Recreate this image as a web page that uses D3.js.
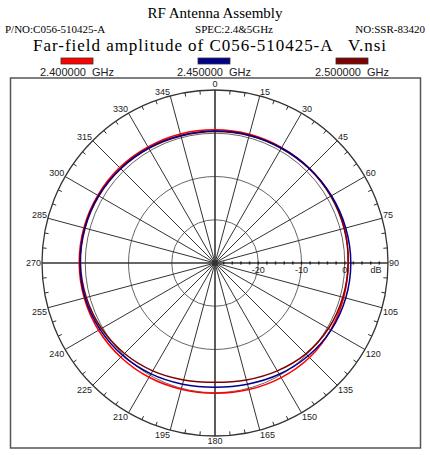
<!DOCTYPE html>
<html>
<head>
<meta charset="utf-8">
<script src="https://cdn.jsdelivr.net/npm/d3@7"></script>
<style>
  body { margin: 0; background: #fff; }
  svg { display: block; }
</style>
</head>
<body>
<div id="chart"></div>
<script>
// angles (deg) where the traces were read, every 15 deg
var angles = [0, 15, 30, 45, 60, 75, 90, 105, 120, 135, 150, 165,
              180, 195, 210, 225, 240, 255, 270, 285, 300, 315, 330, 345];

// amplitude in dB
var amp2400 = [0.8, 0.8, 0.8, 0.9, 1.0, 1.0, 0.8, 0.8, 0.9, 0.9, 0.6, 0.3,
               0.1, 0.2, 0.5, 0.8, 1.1, 1.3, 1.4, 1.4, 1.3, 1.2, 1.0, 0.9];
var amp2450 = [0.5, 0.6, 0.7, 0.9, 1.1, 1.3, 1.4, 1.3, 1.0, 0.4, -0.3, -1.0,
               -1.3, -1.0, -0.4, 0.2, 0.7, 1.1, 1.2, 1.2, 1.1, 0.9, 0.7, 0.5];
var amp2500 = [0.4, 0.5, 0.6, 0.8, 0.9, 0.9, 0.8, 0.6, 0.3, -0.3, -1.2, -2.0,
               -2.4, -2.0, -1.2, -0.4, 0.3, 0.8, 1.1, 1.1, 1.0, 0.8, 0.6, 0.4];

var seriesNames = ['2.400000  GHz', '2.450000  GHz', '2.500000  GHz'];
var seriesColors = ['#ff0000', '#00008b', '#800000'];

var angleLabels = [0, 15, 30, 45, 60, 75, 90, 105, 120, 135, 150, 165,
                   180, 195, 210, 225, 240, 255, 270, 285, 300, 315, 330, 345];
var ringValues = [-20, -10, 0, 10];
var radialLabels = [-20, -10, 0];

var width = 430, height = 455;
var cx = 215, cy = 263, R = 173;

var svg = d3.select('#chart').append('svg')
    .attr('width', width)
    .attr('height', height);

// header texts
svg.append('text')
    .attr('x', 215).attr('y', 18)
    .attr('text-anchor', 'middle')
    .style('font-family', 'Liberation Serif')
    .style('font-size', '15px')
    .text('RF Antenna Assembly');

svg.append('text')
    .attr('x', 5).attr('y', 33)
    .style('font-family', 'Liberation Serif')
    .style('font-size', '11px')
    .text('P/NO:C056-510425-A');

svg.append('text')
    .attr('x', 234).attr('y', 33)
    .attr('text-anchor', 'middle')
    .style('font-family', 'Liberation Serif')
    .style('font-size', '11px')
    .text('SPEC:2.4&5GHz');

svg.append('text')
    .attr('x', 425).attr('y', 33)
    .attr('text-anchor', 'end')
    .style('font-family', 'Liberation Serif')
    .style('font-size', '11px')
    .text('NO:SSR-83420');

svg.append('text')
    .attr('x', 33).attr('y', 51)
    .attr('textLength', 353)
    .style('font-family', 'Liberation Serif')
    .style('font-size', '17px')
    .style('white-space', 'pre')
    .text('Far-field amplitude of C056-510425-A   V.nsi');

// legend
var legendX = [77, 214, 352];
var legend = svg.selectAll('.legend')
    .data(seriesNames)
  .enter().append('g')
    .attr('class', 'legend')
    .attr('transform', function(d, i) { return 'translate(' + legendX[i] + ',0)'; });

legend.append('rect')
    .attr('x', -16).attr('y', 58)
    .attr('width', 32).attr('height', 6)
    .attr('fill', function(d, i) { return seriesColors[i]; })
    .attr('stroke', '#333')
    .attr('stroke-width', 0.8);

legend.append('text')
    .attr('y', 76)
    .attr('text-anchor', 'middle')
    .style('font-family', 'Liberation Sans')
    .style('font-size', '11px')
    .style('fill', '#222')
    .style('white-space', 'pre')
    .text(function(d) { return d; });

// frame
svg.append('rect')
    .attr('x', 10.5).attr('y', 78)
    .attr('width', 410).attr('height', 370)
    .attr('fill', 'none')
    .attr('stroke', '#555')
    .attr('stroke-width', 1.5);

var r = d3.scaleLinear().domain([-30, 10]).range([0, R]);
var rad = function(deg) { return deg * Math.PI / 180; };

var g = svg.append('g')
    .attr('transform', 'translate(' + cx + ',' + cy + ')');

// rings
g.selectAll('.ring')
    .data(ringValues)
  .enter().append('circle')
    .attr('class', 'ring')
    .attr('r', function(d) { return r(d); })
    .attr('fill', 'none')
    .attr('stroke', function(d) { return d === 10 ? '#333' : '#666'; })
    .attr('stroke-width', function(d) { return d === 10 ? 1.3 : 1; });

// spokes
g.selectAll('.spoke')
    .data(angleLabels)
  .enter().append('line')
    .attr('class', 'spoke')
    .attr('x1', 0).attr('y1', 0)
    .attr('x2', function(d) { return R * Math.sin(rad(d)); })
    .attr('y2', function(d) { return -R * Math.cos(rad(d)); })
    .attr('stroke', '#333')
    .attr('stroke-width', function(d) { return d % 90 === 0 ? 1.6 : 1; });

// minor ticks on outer ring every 5 deg
var minor = d3.range(0, 360, 5).filter(function(d) { return d % 15 !== 0; });
g.selectAll('.mtick')
    .data(minor)
  .enter().append('line')
    .attr('x1', function(d) { return R * Math.sin(rad(d)); })
    .attr('y1', function(d) { return -R * Math.cos(rad(d)); })
    .attr('x2', function(d) { return (R - 4) * Math.sin(rad(d)); })
    .attr('y2', function(d) { return -(R - 4) * Math.cos(rad(d)); })
    .attr('stroke', '#333')
    .attr('stroke-width', 1);

// small ticks along the 90 deg axis every 2 dB
var dbTicks = d3.range(-28, 10, 2);
g.selectAll('.dbtick')
    .data(dbTicks)
  .enter().append('line')
    .attr('x1', function(d) { return r(d); })
    .attr('x2', function(d) { return r(d); })
    .attr('y1', -1.5).attr('y2', 1.5)
    .attr('stroke', '#222')
    .attr('stroke-width', 1.5);

// traces
var line = d3.lineRadial()
    .angle(function(d) { return rad(d[0]); })
    .radius(function(d) { return r(d[1]); })
    .curve(d3.curveCardinalClosed);

var traces = [amp2400, amp2500, amp2450];
var traceColors = [seriesColors[0], seriesColors[2], seriesColors[1]];
g.selectAll('.trace')
    .data(traces)
  .enter().append('path')
    .attr('class', 'trace')
    .attr('d', function(d) { return line(angles.map(function(a, i) { return [a, d[i]]; })); })
    .attr('fill', 'none')
    .attr('stroke', function(d, i) { return traceColors[i]; })
    .attr('stroke-width', 1.5);

// angle labels
g.selectAll('.alabel')
    .data(angleLabels)
  .enter().append('text')
    .attr('class', 'alabel')
    .attr('x', function(d) { return (R + 1) * Math.sin(rad(d)); })
    .attr('y', function(d) { return -(R + 1) * Math.cos(rad(d)); })
    .attr('text-anchor', function(d) {
      if (d === 0 || d === 180) return 'middle';
      return d < 180 ? 'start' : 'end';
    })
    .attr('dy', function(d) {
      if (d === 90 || d === 270) return '0.35em';
      if (d === 0) return '-0.2em';
      return (d > 90 && d < 270) ? '0.75em' : '0em';
    })
    .style('font-family', 'Liberation Sans')
    .style('font-size', '9px')
    .style('fill', '#222')
    .text(function(d) { return d; });

// radial labels
g.selectAll('.rlabel')
    .data(radialLabels)
  .enter().append('text')
    .attr('x', function(d) { return r(d); })
    .attr('y', 10)
    .attr('text-anchor', 'middle')
    .style('font-family', 'Liberation Sans')
    .style('font-size', '9px')
    .style('fill', '#222')
    .text(function(d) { return d; });

g.append('text')
    .attr('x', r(7.2)).attr('y', 10)
    .attr('text-anchor', 'middle')
    .style('font-family', 'Liberation Sans')
    .style('font-size', '9px')
    .style('fill', '#222')
    .text('dB');
</script>
</body>
</html>
